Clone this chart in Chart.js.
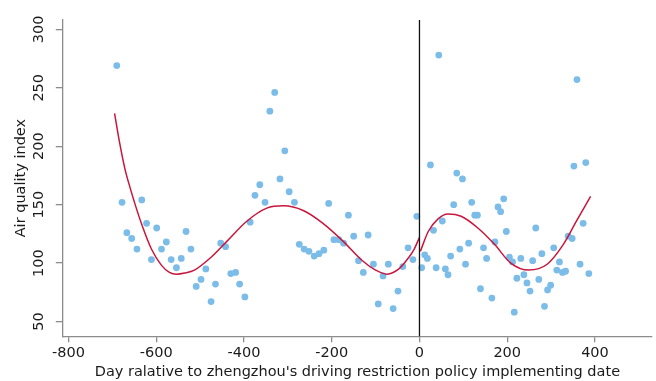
<!DOCTYPE html>
<html>
<head>
<meta charset="utf-8">
<script src="https://cdn.jsdelivr.net/npm/chart.js@4.4.1/dist/chart.umd.min.js"></script>
<style>
  html, body { margin: 0; padding: 0; background: #fff; }
  #wrap { width: 656px; height: 381px; }
</style>
</head>
<body>
<div id="wrap"><canvas id="aqiChart" width="656" height="381"></canvas></div>
<script>
// days relative to policy date and the matching air quality index
const preDays = [-690,-678,-667,-656,-644,-633,-622,-611,-599,-588,-577,-566,-554,-543,-532,-521,-509,-498,-487,-475,-465,-453,-442,-430,-419,-410,-398,-386,-375,-364,-352,-341,-330,-318,-307,-297,-285,-274,-263,-252,-240,-229,-218,-207,-195,-184,-173,-162,-150,-139,-128,-117,-105,-94,-83,-71,-60,-49,-38,-26,-15,-6];
const preAqi = [269,152,126,121,112,154,134,103,130,112,118,103,96,104,127,112,80,86,95,67,82,117,114,91,92,82,71,135,158,167,152,230,246,172,196,161,152,116,112,110,106,108,111,151,120,120,117,141,123,102,92,124,99,65,89,99,61,76,97,113,103,140];
const postDays = [5,12,18,25,32,38,44,52,59,65,71,78,85,92,98,105,112,119,126,132,139,146,153,165,172,179,185,192,198,205,212,216,222,231,238,245,252,258,265,272,279,285,292,299,306,313,319,326,333,339,348,352,359,366,373,379,386];
const postAqi = [96,107,104,184,128,96,278,136,95,90,106,150,177,112,172,99,117,152,141,141,78,113,104,70,118,148,144,155,127,105,101,58,87,104,90,83,76,102,130,86,108,63,77,81,113,94,101,92,93,123,121,183,257,99,134,186,91];

// fitted curve
const preFitDays = [-695,-683,-671,-660,-648,-633,-611,-588,-570,-554,-535,-513,-475,-438,-393,-348,-310,-265,-220,-175,-130,-100,-74,-47,-25,-12,0];
const preFitVals = [228,202,180,165,150,133,112,98,92,90.5,91.5,94,105,119,136,147,149,145,134,119,102,94,90.5,95,104.5,112,122];
const postFitDays = [2,20,43,65,95,133,171,208,249,291,328,358,390];
const postFitVals = [110,127,138,142,140,130,116,100,94,99,116,136,157];

const xTicks = [-800,-600,-400,-200,0,200,400];
const yTicks = [50,100,150,200,250,300];

const dotColor = 'rgb(124,188,232)';
const fitColor = 'rgb(200,22,60)';
const axisColor = '#8c8c8c';
const textColor = '#1a1a1a';
const fontFam = "'DejaVu Sans', sans-serif";
const fontSize = 14.5;

function pairs(xs, ys) {
    return xs.map((x, i) => ({ x: x, y: ys[i] }));
}

// black vertical line at day 0
const zeroLine = {
    id: 'zeroLine',
    afterDatasetsDraw(chart) {
        const ctx = chart.ctx;
        const area = chart.chartArea;
        const px = chart.scales.x.getPixelForValue(0);
        ctx.save();
        ctx.strokeStyle = '#111';
        ctx.lineWidth = 1.3;
        ctx.beginPath();
        ctx.moveTo(px, area.top);
        ctx.lineTo(px, area.bottom);
        ctx.stroke();
        ctx.restore();
    }
};

var ctx = document.getElementById('aqiChart').getContext('2d');
var myChart = new Chart(ctx, {
    type: 'scatter',
    data: {
        datasets: [{
            label: 'AQI',
            data: pairs(preDays.concat(postDays), preAqi.concat(postAqi)),
            backgroundColor: dotColor,
            borderWidth: 0,
            pointRadius: 3.4,
            order: 2
        }, {
            label: 'fit before',
            data: pairs(preFitDays, preFitVals),
            showLine: true,
            borderColor: fitColor,
            borderWidth: 1.5,
            pointRadius: 0,
            cubicInterpolationMode: 'monotone',
            order: 1
        }, {
            label: 'fit after',
            data: pairs(postFitDays, postFitVals),
            showLine: true,
            borderColor: fitColor,
            borderWidth: 1.5,
            pointRadius: 0,
            cubicInterpolationMode: 'monotone',
            order: 1
        }]
    },
    options: {
        responsive: false,
        animation: false,
        devicePixelRatio: 1,
        layout: { padding: { top: 20, right: 0, left: 13, bottom: 0 } },
        plugins: {
            legend: { display: false },
            tooltip: { enabled: false }
        },
        scales: {
            x: {
                type: 'linear',
                min: -813,
                max: 530,
                afterBuildTicks: (s) => { s.ticks = xTicks.map(v => ({ value: v })); },
                border: { color: axisColor, width: 1.3 },
                grid: { display: true, drawOnChartArea: false, tickLength: 6, color: axisColor, lineWidth: 1.3 },
                ticks: { color: textColor, font: { family: fontFam, size: fontSize }, padding: 2, maxRotation: 0 },
                title: {
                    display: true,
                    text: "Day ralative to zhengzhou's driving restriction policy implementing date",
                    color: textColor,
                    font: { family: fontFam, size: fontSize },
                    padding: { top: 0, bottom: 0 }
                }
            },
            y: {
                type: 'linear',
                min: 37.4,
                max: 308,
                afterBuildTicks: (s) => { s.ticks = yTicks.map(v => ({ value: v })); },
                border: { color: axisColor, width: 1.3 },
                grid: { display: true, drawOnChartArea: false, tickLength: 7, color: axisColor, lineWidth: 1.3 },
                ticks: { color: textColor, font: { family: fontFam, size: fontSize }, padding: 3, minRotation: 90, maxRotation: 90, crossAlign: 'center' },
                title: {
                    display: true,
                    text: 'Air quality index',
                    color: textColor,
                    font: { family: fontFam, size: fontSize },
                    padding: { top: 0, bottom: 2 }
                }
            }
        }
    },
    plugins: [zeroLine]
});
</script>
</body>
</html>
